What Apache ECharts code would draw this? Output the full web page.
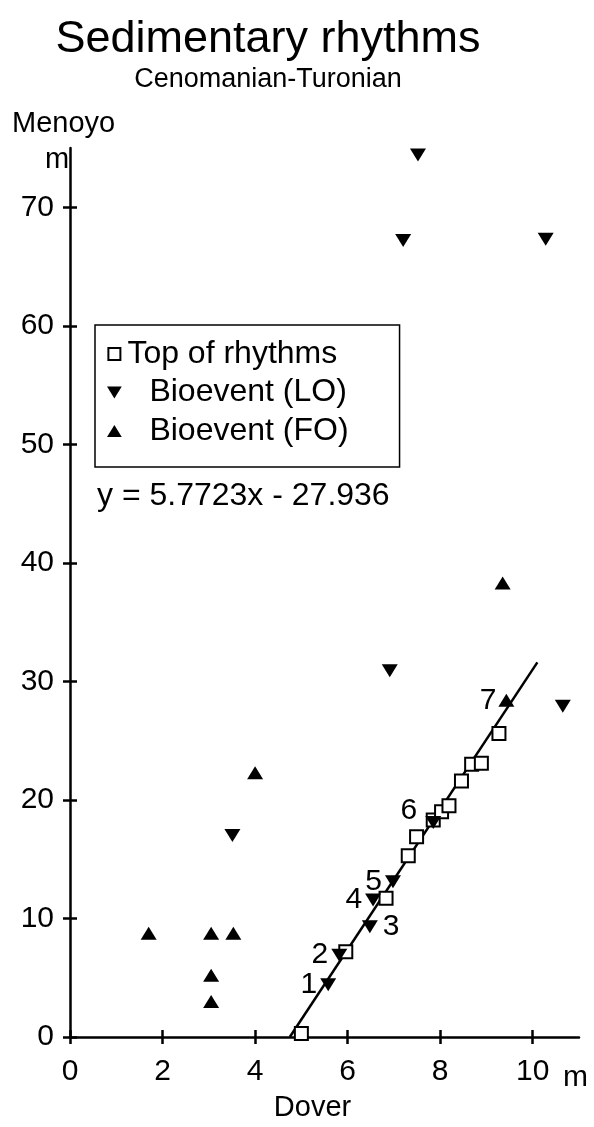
<!DOCTYPE html>
<html>
<head>
<meta charset="utf-8">
<script src="https://cdn.jsdelivr.net/npm/echarts@6/dist/echarts.min.js"></script>
<style>
  html, body { margin: 0; padding: 0; background: #fff; }
  #chart { width: 594px; height: 1127px; }
</style>
</head>
<body>
<div id="chart"></div>
<script>
// ---- data ----
const xTicks = [0, 2, 4, 6, 8, 10];
const yTicks = [0, 10, 20, 30, 40, 50, 60, 70];

// Top of rhythms (Dover m, Menoyo m)
const topOfRhythms = [
  [5.00, 0.3], [5.96, 7.2], [6.83, 11.7], [7.31, 15.3], [7.49, 16.9],
  [7.85, 18.3], [8.03, 19.0], [8.19, 19.5], [8.46, 21.6], [8.68, 23.0],
  [8.89, 23.1], [9.27, 25.6]
];
// Bioevent (LO) – last occurrences
const bioLO = [
  [5.58, 4.4], [5.82, 6.9], [6.48, 9.3], [6.55, 11.55], [6.98, 13.1],
  [7.85, 18.1], [3.51, 17.0], [6.91, 30.9], [7.52, 74.4], [7.20, 67.2],
  [10.28, 67.3], [10.65, 27.9]
];
const bioLONumbers = ['1', '2', '3', '4', '5', '6', '', '', '', '', '', ''];
// Bioevent (FO) – first occurrences
const bioFO = [
  [1.70, 8.75], [3.05, 8.75], [3.53, 8.75], [3.05, 5.2], [3.05, 3.0],
  [4.00, 22.3], [9.35, 38.3], [9.43, 28.4]
];
const bioFONumbers = ['', '', '', '', '', '', '', '7'];
// fitted line end points
const fitLine = [[4.75, 0], [10.1, 31.6]];
const equationText = 'y = 5.7723x - 27.936';

// ---- styling ----
const FONT = "'Liberation Sans', Arial, Helvetica, sans-serif";
const labelPlacement = {
  '1': { position: 'left', distance: 3 },
  '2': { position: 'left', distance: 3 },
  '3': { position: 'right', distance: 5 },
  '4': { position: 'left', distance: 3 },
  '5': { position: 'left', distance: 3 },
  '6': { position: 'left', distance: 8, offset: [0, -12] },
  '7': { position: 'left', distance: 2 }
};
function withLabels(points, numbers) {
  return points.map((p, i) => {
    const t = numbers[i];
    if (!t) return { value: p };
    const pl = labelPlacement[t];
    return {
      value: p,
      label: {
        show: true, formatter: t, position: pl.position, distance: pl.distance,
        offset: pl.offset || [0, 0], color: '#000', fontSize: 30, fontFamily: FONT
      }
    };
  });
}

const chart = echarts.init(document.getElementById('chart'), null, { renderer: 'canvas' });

const axisLineStyle = { color: '#000', width: 2.5 };

const option = {
  backgroundColor: '#fff',
  animation: false,
  title: {
    text: 'Sedimentary rhythms',
    subtext: 'Cenomanian-Turonian',
    left: 263,
    top: 12,
    textAlign: 'center',
    itemGap: 4,
    textStyle: { fontFamily: FONT, fontSize: 45, fontWeight: 'normal', color: '#000' },
    subtextStyle: { fontFamily: FONT, fontSize: 27, color: '#000' }
  },
  grid: { left: 70, right: 15, top: 148, bottom: 88 },
  legend: {
    orient: 'vertical',
    left: 95,
    top: 325,
    padding: [13, 51, 20, 12],
    borderColor: '#000',
    borderWidth: 1.5,
    itemGap: 6.5,
    itemWidth: 16,
    itemHeight: 12,
    formatter: function (name) { return name === 'Top of rhythms' ? name : '{s|}' + name; },
    textStyle: {
      fontFamily: FONT, fontSize: 32, color: '#000', lineHeight: 32,
      rich: { s: { width: 22 } }
    },
    data: [
      { name: 'Top of rhythms', icon: 'path://M0,0h10v10h-10z', symbolKeepAspect: true,
        itemStyle: { color: '#fff', borderColor: '#000', borderWidth: 2 } },
      { name: 'Bioevent (LO)', icon: 'path://M0,0L16,0L8,13Z', itemStyle: { color: '#000', opacity: 1 } },
      { name: 'Bioevent (FO)', icon: 'path://M8,0L16,13L0,13Z', itemStyle: { color: '#000', opacity: 1 } }
    ]
  },
  graphic: [
    { type: 'text', left: 97, top: 480, style: { text: equationText, font: '32px ' + FONT, fill: '#000' } },
    { type: 'text', left: 45, top: 145, style: { text: 'm', font: '29px ' + FONT, fill: '#000' } },
    { type: 'text', left: 563, top: 1063, style: { text: 'm', font: '30px ' + FONT, fill: '#000' } }
  ],
  xAxis: [
    {
      type: 'value', position: 'bottom', min: 0, max: 11, interval: 2,
      name: 'Dover', nameLocation: 'middle', nameGap: 56,
      nameTextStyle: { fontFamily: FONT, fontSize: 29, color: '#000', padding: [0, 24, 0, 0] },
      axisLine: { show: true, onZero: false, lineStyle: axisLineStyle },
      axisTick: { show: true, length: 7, lineStyle: axisLineStyle, customValues: xTicks },
      axisLabel: { show: true, margin: 20, fontFamily: FONT, fontSize: 30, color: '#000', customValues: xTicks },
      splitLine: { show: false }
    },
    {
      type: 'value', position: 'bottom', min: 0, max: 11, interval: 2,
      axisLine: { show: false, onZero: false },
      axisTick: { show: true, inside: true, length: 7, lineStyle: axisLineStyle, customValues: xTicks },
      axisLabel: { show: false },
      splitLine: { show: false }
    }
  ],
  yAxis: [
    {
      type: 'value', position: 'left', min: 0, max: 75, interval: 10,
      name: 'Menoyo', nameLocation: 'end', nameGap: 10,
      nameTextStyle: { fontFamily: FONT, fontSize: 29, color: '#000', align: 'left', padding: [0, 0, 0, -58] },
      axisLine: { show: true, onZero: false, lineStyle: axisLineStyle },
      axisTick: { show: true, length: 7, lineStyle: axisLineStyle, customValues: yTicks },
      axisLabel: { show: true, margin: 16, fontFamily: FONT, fontSize: 30, color: '#000', customValues: yTicks },
      splitLine: { show: false }
    },
    {
      type: 'value', position: 'left', min: 0, max: 75, interval: 10,
      axisLine: { show: false, onZero: false },
      axisTick: { show: true, inside: true, length: 7, lineStyle: axisLineStyle, customValues: yTicks },
      axisLabel: { show: false },
      splitLine: { show: false }
    }
  ],
  series: [
    {
      name: 'fit', type: 'line', data: fitLine, xAxisIndex: 0, yAxisIndex: 0,
      showSymbol: false, symbol: 'none', silent: true, z: 1,
      lineStyle: { color: '#000', width: 2.5 }
    },
    {
      name: 'Top of rhythms', type: 'scatter', data: topOfRhythms, xAxisIndex: 0, yAxisIndex: 0,
      symbol: 'emptyRect', symbolSize: 13, z: 3,
      itemStyle: { color: '#000', borderColor: '#000', borderWidth: 2, opacity: 1 }
    },
    {
      name: 'Bioevent (LO)', type: 'scatter', data: withLabels(bioLO, bioLONumbers), xAxisIndex: 0, yAxisIndex: 0,
      symbol: 'triangle', symbolRotate: 180, symbolSize: [16, 13], z: 4,
      itemStyle: { color: '#000', opacity: 1 }
    },
    {
      name: 'Bioevent (FO)', type: 'scatter', data: withLabels(bioFO, bioFONumbers), xAxisIndex: 0, yAxisIndex: 0,
      symbol: 'triangle', symbolSize: [16, 13], z: 4,
      itemStyle: { color: '#000', opacity: 1 }
    }
  ]
};
chart.setOption(option);
</script>
</body>
</html>
